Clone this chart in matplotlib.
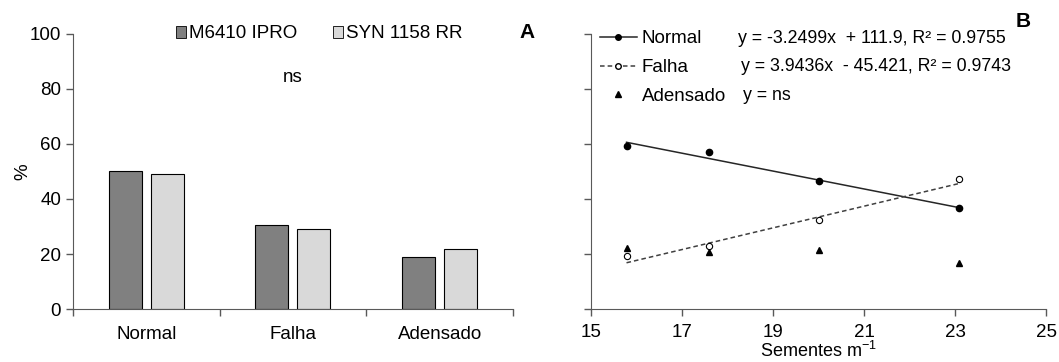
import numpy as np
import matplotlib.pyplot as plt
from matplotlib.lines import Line2D
from matplotlib.patches import Patch
from matplotlib.legend_handler import HandlerLine2D

plt.rcParams['font.family'] = ['Liberation Sans', 'DejaVu Sans']
plt.rcParams['font.size'] = 13.5

# panel A - bars
categories = ['Normal', 'Falha', 'Adensado']
m6410 = [50.2, 30.5, 18.9]
syn1158 = [49.1, 29.1, 21.8]
bar_labels = ['M6410 IPRO', 'SYN 1158 RR']

# panel B - scatter + trend lines
sementes = [15.78, 17.6, 20.02, 23.09]
normal = [59.4, 57.1, 46.5, 36.7]
falha = [19.4, 22.9, 32.4, 47.3]
adensado = [22.3, 20.8, 21.5, 16.6]
fit_normal = (-3.2499, 111.9)
fit_falha = (3.9436, -45.421)
eq_labels = ['y = -3.2499x  + 111.9, R² = 0.9755',
             'y = 3.9436x  - 45.421, R² = 0.9743',
             'y = ns']

spine_col = '#595959'


class EndMarker(HandlerLine2D):
    # marker drawn at the right end of the legend line
    def get_xdata(self, legend, xdescent, ydescent, width, height, fontsize):
        xdata, _ = super().get_xdata(legend, xdescent, ydescent, width, height, fontsize)
        return xdata, [xdata[-1]]


fig = plt.figure(figsize=(10.59, 3.62), dpi=100)
axA = fig.add_axes([0.0689, 0.1464, 0.4155, 0.7597])
axB = fig.add_axes([0.5581, 0.1464, 0.4297, 0.7597])

for ax in (axA, axB):
    ax.spines['top'].set_visible(False)
    ax.spines['right'].set_visible(False)
    for s in ('left', 'bottom'):
        ax.spines[s].set_color(spine_col)
    ax.tick_params(direction='out', length=5, color=spine_col, width=1)
    ax.set_ylim(0, 100)
    ax.set_yticks(np.arange(0, 101, 20))

# ---- A
x = np.arange(len(categories))
w = 0.225
axA.bar(x - 0.143, m6410, w, color='#808080', edgecolor='black', linewidth=0.8, label=bar_labels[0])
axA.bar(x + 0.143, syn1158, w, color='#d9d9d9', edgecolor='black', linewidth=0.8, label=bar_labels[1])
axA.set_xlim(-0.5, 2.5)
axA.set_xticks(np.arange(-0.5, 2.6, 1))
axA.set_xticklabels([])
axA.set_xticks(x, minor=True)
axA.set_xticklabels(categories, minor=True)
axA.tick_params(axis='x', which='minor', length=0, pad=12)
axA.set_ylabel('%', labelpad=-1)
axA.text(0.5, 0.84, 'ns', transform=axA.transAxes, ha='center', va='center')
axA.legend(handles=[Patch(facecolor='#808080', edgecolor='black', linewidth=0.6),
                    Patch(facecolor='#d9d9d9', edgecolor='black', linewidth=0.6)],
           labels=bar_labels, ncol=2, frameon=False, loc='center',
           bbox_to_anchor=(0.56, 1.0), handlelength=0.55, handleheight=0.55,
           handletextpad=0.15, columnspacing=1.9)
fig.text(0.4976, 0.909, 'A', fontsize=15, fontweight='bold', ha='center', va='center')

# ---- B
xs = np.array(sementes)
ln_n, = axB.plot(xs, fit_normal[0] * xs + fit_normal[1], color='#262626', lw=1.1)
ln_f, = axB.plot(xs, fit_falha[0] * xs + fit_falha[1], color='#404040', lw=1.1, ls=(0, (3, 2)))
axB.plot(xs, normal, 'o', color='black', ms=4.5)
axB.plot(xs, falha, 'o', mfc='white', mec='black', ms=4.5, mew=0.8)
axB.plot(xs, adensado, '^', color='black', ms=5)
axB.set_xlim(15, 25)
axB.set_xticks(np.arange(15, 26, 2))
axB.set_yticklabels([])
axB.tick_params(axis='x', pad=6)
axB.set_xlabel('Sementes m$^{\\mathregular{-1}}$', labelpad=0, fontsize=13)

h_n = Line2D([], [], color='#262626', lw=1.1, marker='o', ms=4, mfc='black', mec='black')
h_f = Line2D([], [], color='#404040', lw=1.1, ls=(0, (3, 2)), marker='o', ms=4, mfc='white', mec='black')
h_a = Line2D([], [], color='none', marker='^', ms=4.5, mfc='black', mec='black')
axB.legend(handles=[h_n, h_f, h_a], labels=categories, frameon=False, loc='upper left',
           bbox_to_anchor=(-0.018, 1.075), handlelength=2.0, handletextpad=0.25,
           labelspacing=0.62, handler_map={Line2D: EndMarker(numpoints=1)})
for i, eq in enumerate(eq_labels):
    axB.text([0.323, 0.330, 0.333][i], [0.982, 0.88, 0.775][i], eq, transform=axB.transAxes,
             ha='left', va='center', fontsize=12.8)
fig.text(0.966, 0.94, 'B', fontsize=15, fontweight='bold', ha='center', va='center')

fig.savefig('out.png', dpi=100)
